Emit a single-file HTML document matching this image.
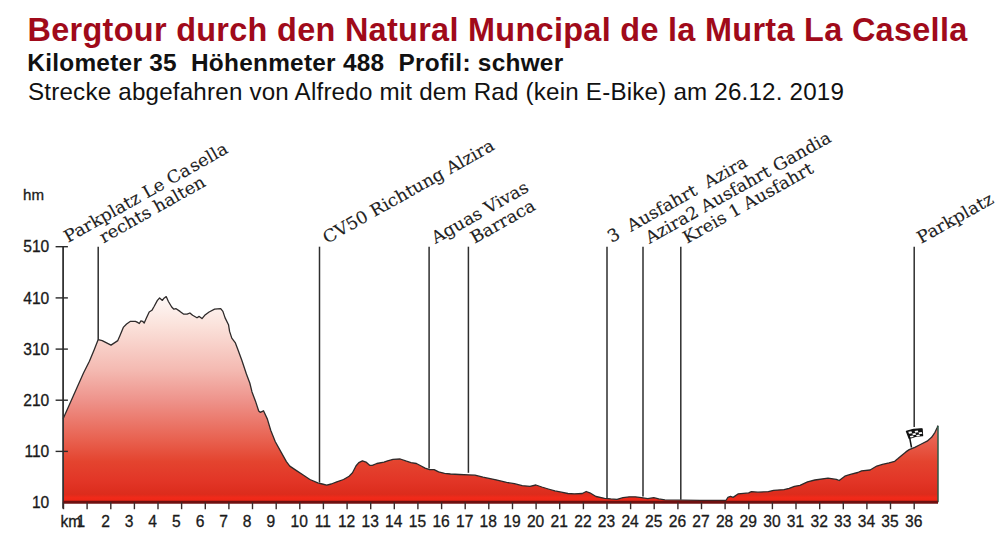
<!DOCTYPE html>
<html><head><meta charset="utf-8"><title>Bergtour</title>
<style>
html,body{margin:0;padding:0;background:#fff;}
svg{display:block;}
.h{font-family:"Liberation Sans",Arial,sans-serif;}
.lab{font-family:"DejaVu Serif","Liberation Serif",serif;font-size:17px;fill:#222;stroke:#222;stroke-width:0.12px;}
.ax{font-family:"Liberation Sans",Arial,sans-serif;font-size:15.6px;fill:#1a1a1a;stroke:#1a1a1a;stroke-width:0.3px;}
</style></head>
<body>
<svg width="1000" height="536" viewBox="0 0 1000 536">
<defs>
<linearGradient id="g" gradientUnits="userSpaceOnUse" x1="0" y1="300" x2="0" y2="502">
<stop offset="0" stop-color="#fdf6f4"/>
<stop offset="0.12" stop-color="#fbe3dc"/>
<stop offset="0.35" stop-color="#f4b9b1"/>
<stop offset="0.5" stop-color="#ee928a"/>
<stop offset="0.7" stop-color="#e85f4d"/>
<stop offset="0.8" stop-color="#e4442f"/>
<stop offset="0.9" stop-color="#e23526"/>
<stop offset="0.962" stop-color="#dc2c1c"/>
<stop offset="0.978" stop-color="#f02a1a"/>
<stop offset="1" stop-color="#ee2616"/>
</linearGradient>
</defs>
<rect width="1000" height="536" fill="#fff"/>
<g class="h">
<text x="27.5" y="40.8" font-size="32.4" font-weight="bold" fill="#a00a1a" letter-spacing="0.32">Bergtour durch den Natural Muncipal de la Murta La Casella</text>
<text x="27.3" y="71.2" font-size="24.4" font-weight="bold" fill="#111" letter-spacing="0.263">Kilometer 35&#160; Höhenmeter 488&#160; Profil: schwer</text>
<text x="28" y="100.2" font-size="24.2" fill="#111" letter-spacing="0.19">Strecke abgefahren von Alfredo mit dem Rad (kein E-Bike) am 26.12. 2019</text>
</g>
<text class="ax" x="23" y="200" style="font-size:15px" textLength="21" lengthAdjust="spacingAndGlyphs">hm</text>
<g class="ax"><text x="49.3" y="252.3" text-anchor="end">510</text><text x="49.3" y="303.5" text-anchor="end">410</text><text x="49.3" y="354.7" text-anchor="end">310</text><text x="49.3" y="405.8" text-anchor="end">210</text><text x="49.3" y="457" text-anchor="end">110</text><text x="49.3" y="507.9" text-anchor="end">10</text></g>
<polygon points="63.1,418.8 67.8,408.2 75.7,390.6 83.5,373 89.4,361.2 94.3,349.4 98.2,339.6 102.2,340.6 111,345.1 117.8,340.6 120,335.5 123.3,327.4 126.6,324 130.5,321.3 135.4,321.3 137.6,322.4 139.3,323.5 140.9,320.8 142.6,321.3 144.2,323 146.4,318 149.2,312 151.9,310.3 154.1,306.5 157.4,300.4 159.6,298 162.4,300.4 164,298.2 166.2,296.6 168.4,301.5 171.7,307 173.9,309.2 176.1,308.7 180,311.4 183.8,314.2 187.1,314.2 189.9,313 192.6,315.3 197,317.8 199.2,316.4 202,318.6 204.7,315.3 209.1,312 214.6,309.2 220.7,308.7 222.9,311.4 225.1,317.9 228.5,324.7 229.6,331.4 231.8,338.1 235.2,342.6 237.4,348.2 241.9,360.5 246.4,374 249.8,383 252,391.9 255.4,400.9 258.7,411 260.2,412.3 263.5,410.8 267.4,419.1 270.7,430.3 275.2,441.5 280.8,451.6 286.4,461.6 289.8,466.1 296.5,470.6 303.2,475 309.9,479.5 317.8,482.9 322.2,484 326.7,485.1 331.2,484 336.8,481.8 343.5,479.5 349.1,476.2 352.5,472.8 356.1,465.7 358.8,462.6 362.4,460.8 366,462.1 369.6,465.3 372.3,465.3 376.8,463.5 384,462.1 387.6,460.8 393,459.4 400.2,459 406.5,461.2 411,462.6 416.4,463.5 420.7,465.8 425.1,468.1 429.6,469.6 434.1,469.6 438.6,471.8 444.6,473.3 450.5,474 459.5,474.5 468.4,474.8 475,475.2 483,477.2 496.1,479.8 506.6,482.4 514.4,483.7 522.2,485.7 530,486.3 535.9,485 541.8,487 548.3,489 554.9,490.9 561.4,492.2 567.9,493.5 574.4,493.8 582.3,493.5 586.2,491.5 589.8,492.8 596,496.5 604.6,498.3 610.8,498.9 617,499.3 623,497.7 629.2,496.8 635.4,496.8 641.5,497.7 647.7,498.6 653.8,497.7 658.8,498.9 664.9,499.9 700,500.4 725.9,500.5 727.9,497.4 730.5,496.4 733.1,497.4 738.3,493.8 748.7,492.9 751.4,491.6 757.9,492.2 768.3,491.6 773.6,490.3 784,489.6 789.2,488.3 794.4,486.3 800,485.3 807.5,481.8 814.9,480 828,478.1 836.4,479.4 839.2,480.5 844.8,476.2 850.4,474.4 857.8,472.5 861.6,470.8 870.1,470 876.8,466 882.4,464.4 889.1,462.8 894.7,461.3 898,458.6 902.5,454.7 905.9,451.9 909.2,449.6 914.8,447.3 920.4,444.5 927.1,441.2 931.6,437.3 935,432.3 937.2,427.5 938,425.6 938,502.3 63.1,502.3" fill="url(#g)"/>
<polyline points="63.1,418.8 67.8,408.2 75.7,390.6 83.5,373 89.4,361.2 94.3,349.4 98.2,339.6 102.2,340.6 111,345.1 117.8,340.6 120,335.5 123.3,327.4 126.6,324 130.5,321.3 135.4,321.3 137.6,322.4 139.3,323.5 140.9,320.8 142.6,321.3 144.2,323 146.4,318 149.2,312 151.9,310.3 154.1,306.5 157.4,300.4 159.6,298 162.4,300.4 164,298.2 166.2,296.6 168.4,301.5 171.7,307 173.9,309.2 176.1,308.7 180,311.4 183.8,314.2 187.1,314.2 189.9,313 192.6,315.3 197,317.8 199.2,316.4 202,318.6 204.7,315.3 209.1,312 214.6,309.2 220.7,308.7 222.9,311.4 225.1,317.9 228.5,324.7 229.6,331.4 231.8,338.1 235.2,342.6 237.4,348.2 241.9,360.5 246.4,374 249.8,383 252,391.9 255.4,400.9 258.7,411 260.2,412.3 263.5,410.8 267.4,419.1 270.7,430.3 275.2,441.5 280.8,451.6 286.4,461.6 289.8,466.1 296.5,470.6 303.2,475 309.9,479.5 317.8,482.9 322.2,484 326.7,485.1 331.2,484 336.8,481.8 343.5,479.5 349.1,476.2 352.5,472.8 356.1,465.7 358.8,462.6 362.4,460.8 366,462.1 369.6,465.3 372.3,465.3 376.8,463.5 384,462.1 387.6,460.8 393,459.4 400.2,459 406.5,461.2 411,462.6 416.4,463.5 420.7,465.8 425.1,468.1 429.6,469.6 434.1,469.6 438.6,471.8 444.6,473.3 450.5,474 459.5,474.5 468.4,474.8 475,475.2 483,477.2 496.1,479.8 506.6,482.4 514.4,483.7 522.2,485.7 530,486.3 535.9,485 541.8,487 548.3,489 554.9,490.9 561.4,492.2 567.9,493.5 574.4,493.8 582.3,493.5 586.2,491.5 589.8,492.8 596,496.5 604.6,498.3 610.8,498.9 617,499.3 623,497.7 629.2,496.8 635.4,496.8 641.5,497.7 647.7,498.6 653.8,497.7 658.8,498.9 664.9,499.9 700,500.4 725.9,500.5 727.9,497.4 730.5,496.4 733.1,497.4 738.3,493.8 748.7,492.9 751.4,491.6 757.9,492.2 768.3,491.6 773.6,490.3 784,489.6 789.2,488.3 794.4,486.3 800,485.3 807.5,481.8 814.9,480 828,478.1 836.4,479.4 839.2,480.5 844.8,476.2 850.4,474.4 857.8,472.5 861.6,470.8 870.1,470 876.8,466 882.4,464.4 889.1,462.8 894.7,461.3 898,458.6 902.5,454.7 905.9,451.9 909.2,449.6 914.8,447.3 920.4,444.5 927.1,441.2 931.6,437.3 935,432.3 937.2,427.5 938,425.6" fill="none" stroke="#2e2a2a" stroke-width="1.3" stroke-linejoin="round"/>
<line x1="938" y1="425.9" x2="938" y2="502.3" stroke="#2c5a48" stroke-width="1.5"/>
<g stroke="#2e2e2e" stroke-width="1.5"><line x1="98.2" y1="246.7" x2="98.2" y2="339.6"/><line x1="319.5" y1="246.7" x2="319.5" y2="482.5"/><line x1="429.1" y1="246.7" x2="429.1" y2="468.5"/><line x1="468.4" y1="246.7" x2="468.4" y2="472.8"/><line x1="607" y1="246.7" x2="607" y2="498"/><line x1="643" y1="246.7" x2="643" y2="496.5"/><line x1="680.8" y1="246.7" x2="680.8" y2="499.8"/><line x1="914.2" y1="246.7" x2="914.2" y2="427"/></g>
<line x1="63.1" y1="246.7" x2="63.1" y2="508.5" stroke="#333" stroke-width="1.8"/>
<g stroke="#2a2a2a" stroke-width="1.4"><line x1="55.6" y1="246.7" x2="67.9" y2="246.7"/><line x1="55.6" y1="297.9" x2="67.9" y2="297.9"/><line x1="55.6" y1="349.1" x2="67.9" y2="349.1"/><line x1="55.6" y1="400.2" x2="67.9" y2="400.2"/><line x1="55.6" y1="451.4" x2="67.9" y2="451.4"/></g>
<line x1="63" y1="502.3" x2="938" y2="502.3" stroke="#6e1010" stroke-width="3"/>
<g stroke="#3a2a2a" stroke-width="1.4"><line x1="63.5" y1="502.3" x2="63.5" y2="509.2"/><line x1="87.1" y1="502.3" x2="87.1" y2="509.2"/><line x1="110.8" y1="502.3" x2="110.8" y2="509.2"/><line x1="134.4" y1="502.3" x2="134.4" y2="509.2"/><line x1="158" y1="502.3" x2="158" y2="509.2"/><line x1="181.6" y1="502.3" x2="181.6" y2="509.2"/><line x1="205.3" y1="502.3" x2="205.3" y2="509.2"/><line x1="228.9" y1="502.3" x2="228.9" y2="509.2"/><line x1="252.5" y1="502.3" x2="252.5" y2="509.2"/><line x1="276.2" y1="502.3" x2="276.2" y2="509.2"/><line x1="299.8" y1="502.3" x2="299.8" y2="509.2"/><line x1="323.4" y1="502.3" x2="323.4" y2="509.2"/><line x1="347.1" y1="502.3" x2="347.1" y2="509.2"/><line x1="370.7" y1="502.3" x2="370.7" y2="509.2"/><line x1="394.3" y1="502.3" x2="394.3" y2="509.2"/><line x1="417.9" y1="502.3" x2="417.9" y2="509.2"/><line x1="441.6" y1="502.3" x2="441.6" y2="509.2"/><line x1="465.2" y1="502.3" x2="465.2" y2="509.2"/><line x1="488.8" y1="502.3" x2="488.8" y2="509.2"/><line x1="512.5" y1="502.3" x2="512.5" y2="509.2"/><line x1="536.1" y1="502.3" x2="536.1" y2="509.2"/><line x1="559.7" y1="502.3" x2="559.7" y2="509.2"/><line x1="583.4" y1="502.3" x2="583.4" y2="509.2"/><line x1="607" y1="502.3" x2="607" y2="509.2"/><line x1="630.6" y1="502.3" x2="630.6" y2="509.2"/><line x1="654.2" y1="502.3" x2="654.2" y2="509.2"/><line x1="677.9" y1="502.3" x2="677.9" y2="509.2"/><line x1="701.5" y1="502.3" x2="701.5" y2="509.2"/><line x1="725.1" y1="502.3" x2="725.1" y2="509.2"/><line x1="748.8" y1="502.3" x2="748.8" y2="509.2"/><line x1="772.4" y1="502.3" x2="772.4" y2="509.2"/><line x1="796" y1="502.3" x2="796" y2="509.2"/><line x1="819.7" y1="502.3" x2="819.7" y2="509.2"/><line x1="843.3" y1="502.3" x2="843.3" y2="509.2"/><line x1="866.9" y1="502.3" x2="866.9" y2="509.2"/><line x1="890.5" y1="502.3" x2="890.5" y2="509.2"/><line x1="914.2" y1="502.3" x2="914.2" y2="509.2"/></g>
<g class="ax"><text x="80.8" y="526.5" text-anchor="middle">1</text><text x="105.5" y="526.5" text-anchor="middle">2</text><text x="129.1" y="526.5" text-anchor="middle">3</text><text x="152.7" y="526.5" text-anchor="middle">4</text><text x="176.3" y="526.5" text-anchor="middle">5</text><text x="200" y="526.5" text-anchor="middle">6</text><text x="223.6" y="526.5" text-anchor="middle">7</text><text x="247.2" y="526.5" text-anchor="middle">8</text><text x="270.9" y="526.5" text-anchor="middle">9</text><text x="299.3" y="526.5" text-anchor="middle">10</text><text x="322.9" y="526.5" text-anchor="middle">11</text><text x="346.6" y="526.5" text-anchor="middle">12</text><text x="370.2" y="526.5" text-anchor="middle">13</text><text x="393.8" y="526.5" text-anchor="middle">14</text><text x="417.4" y="526.5" text-anchor="middle">15</text><text x="441.1" y="526.5" text-anchor="middle">16</text><text x="464.7" y="526.5" text-anchor="middle">17</text><text x="488.3" y="526.5" text-anchor="middle">18</text><text x="512" y="526.5" text-anchor="middle">19</text><text x="535.6" y="526.5" text-anchor="middle">20</text><text x="559.2" y="526.5" text-anchor="middle">21</text><text x="582.9" y="526.5" text-anchor="middle">22</text><text x="606.5" y="526.5" text-anchor="middle">23</text><text x="630.1" y="526.5" text-anchor="middle">24</text><text x="653.8" y="526.5" text-anchor="middle">25</text><text x="677.4" y="526.5" text-anchor="middle">26</text><text x="701" y="526.5" text-anchor="middle">27</text><text x="724.6" y="526.5" text-anchor="middle">28</text><text x="748.3" y="526.5" text-anchor="middle">29</text><text x="771.9" y="526.5" text-anchor="middle">30</text><text x="795.5" y="526.5" text-anchor="middle">31</text><text x="819.2" y="526.5" text-anchor="middle">32</text><text x="842.8" y="526.5" text-anchor="middle">33</text><text x="866.4" y="526.5" text-anchor="middle">34</text><text x="890" y="526.5" text-anchor="middle">35</text><text x="913.7" y="526.5" text-anchor="middle">36</text><text x="60.5" y="526.5">km</text></g>
<g class="lab" xml:space="preserve"><text transform="translate(68,243) rotate(-29.4) scale(1.04,1)">Parkplatz Le Ca<tspan dx="1.5">sella</tspan></text><text transform="translate(103.5,243.5) rotate(-29.4) scale(1.04,1)">rechts halten</text><text transform="translate(327,244) rotate(-29.4) scale(1.04,1)">CV50 Richtung Alzira</text><text transform="translate(435.5,244) rotate(-29.4) scale(1.04,1)">Aguas Vivas</text><text transform="translate(474.5,244) rotate(-29.4) scale(1.04,1)">Barraca</text><text transform="translate(611.5,243) rotate(-29.4) scale(1.04,1)">3&#160; Ausfahrt&#160; Azira</text><text transform="translate(649.5,244) rotate(-29.4) scale(1.04,1)">Azira2 Ausfahrt Gandia</text><text transform="translate(687,244) rotate(-29.4) scale(1.04,1)">Kreis 1 Ausfahrt</text><text transform="translate(921,244) rotate(-29.4) scale(1.04,1)">Parkplatz</text></g>
<g>
<path d="M906.4,431.2 Q914,428.6 922.1,428.8 L922.6,435.7 Q915.5,435.6 909.2,438.5 Z" fill="#111" stroke="#111" stroke-width="1.2" stroke-linejoin="round"/>
<g transform="matrix(15.7,-2.4,2.8,7.3,906.4,431.2)" fill="#fff">
<rect x="0.1" y="0.12" width="0.2" height="0.25"/><rect x="0.5" y="0.12" width="0.2" height="0.25"/>
<rect x="0.3" y="0.4" width="0.2" height="0.25"/><rect x="0.7" y="0.4" width="0.2" height="0.25"/>
<rect x="0.1" y="0.68" width="0.2" height="0.22"/><rect x="0.5" y="0.68" width="0.2" height="0.22"/>
</g>
<line x1="909.8" y1="438.3" x2="911.5" y2="447.5" stroke="#111" stroke-width="1.5"/>
</g>
</svg>
</body></html>
